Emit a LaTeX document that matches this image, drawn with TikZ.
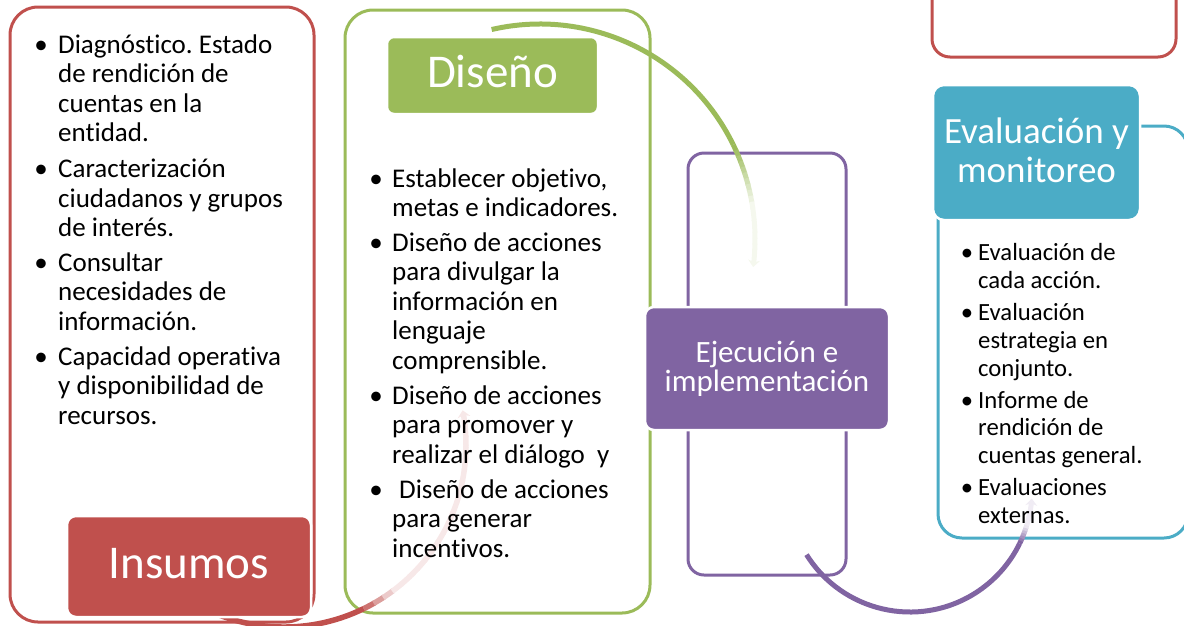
\documentclass[tikz,border=0pt]{standalone}
\usepackage{fontspec}
\setmainfont{Carlito}[Ligatures={NoCommon}]
\usetikzlibrary{arrows.meta,calc}
\definecolor{cred}{HTML}{C0504D}
\definecolor{cgreen}{HTML}{9BBB59}
\definecolor{cpurple}{HTML}{8064A2}
\definecolor{cblue}{HTML}{4BACC6}
\frenchspacing
\begin{document}
\begin{tikzpicture}[x=1pt,y=-1pt,
  outl/.style={draw=#1, line width=3pt, rounded corners=28pt, inner sep=0pt},
  fbox/.style={fill=#1, draw=white, line width=2.5pt, rounded corners=9pt, inner sep=0pt},
  txt/.style={inner sep=0pt, anchor=base west, text=black, font=\fontsize{27}{30}\selectfont},
  btxt/.style={inner sep=0pt, anchor=base west, text=black, font=\fontsize{24.7}{28}\selectfont},
  bul/.style={inner sep=0pt, anchor=base, text=black, font=\fontsize{27}{30}\selectfont},
  bbul/.style={inner sep=0pt, anchor=base, text=black, font=\fontsize{24.7}{28}\selectfont},
  lab/.style={inner sep=0pt, anchor=base, text=white, font=\fontsize{#1}{#1}\selectfont}]
\useasboundingbox (0,0) rectangle (1184,625);
\clip (0,0) rectangle (1184,625);

% outline boxes
\node[outl=cred, minimum width=304pt, minimum height=615pt] (redbox) at (162,314.5) {};
\node[outl=cgreen, minimum width=305pt, minimum height=603pt] (greenbox) at (497.5,311.5) {};
\node[outl=cpurple, rounded corners=16pt, minimum width=158pt, minimum height=422pt] (purplebox) at (767,364) {};
\node[outl=cblue, rounded corners=24pt, minimum width=250pt, minimum height=412pt] (bluebox) at (1063,332) {};
\node[outl=cred, rounded corners=18pt, minimum width=244pt, minimum height=97pt] (redtop) at (1054,8.5) {};

% curved arrows (fading)
\coordinate (RC) at (284,445);
\draw[cred, line width=5.5pt] ($(RC)+(145:182)$) arc[start angle=145, end angle=64, radius=182];
\foreach \i in {0,...,19}{
  \pgfmathsetmacro\aa{64-3.5*\i}
  \pgfmathsetmacro\ab{64-3.5*\i-3.9}
  \pgfmathsetmacro\pc{max(13,80-\i*25)}
  \draw[cred!\pc!white, line width=5.5pt] ($(RC)+(\aa:182)$) arc[start angle=\aa, end angle=\ab, radius=182];
}
\draw[cred!13!white, line width=5.5pt, -{Stealth[length=7pt,width=13pt]}] ($(RC)+(-6:182)$) arc[start angle=-6, end angle=-11, radius=182];

\coordinate (GC) at (540,239);
\draw[cgreen, line width=5pt] ($(GC)+(-103:215)$) arc[start angle=-103, end angle=-26, radius=215];
\foreach \i in {0,...,17}{
  \pgfmathsetmacro\aa{-26+1.6*\i}
  \pgfmathsetmacro\ab{-26+1.6*\i+1.9}
  \pgfmathsetmacro\pc{max(10,100-\i*9)}
  \draw[cgreen!\pc!white, line width=5pt] ($(GC)+(\aa:215)$) arc[start angle=\aa, end angle=\ab, radius=215];
}
\draw[cgreen!10!white, line width=5pt, -{Stealth[length=7pt,width=12pt]}] ($(GC)+(2.5:215)$) arc[start angle=2.5, end angle=7.5, radius=215];

\coordinate (PC) at (910,490);
\draw[cpurple, line width=5pt] ($(PC)+(148:122)$) arc[start angle=148, end angle=26, radius=122];
\foreach \i in {0,...,11}{
  \pgfmathsetmacro\aa{26-1.3*\i}
  \pgfmathsetmacro\ab{26-1.3*\i-1.6}
  \pgfmathsetmacro\pc{max(12,100-\i*14)}
  \draw[cpurple!\pc!white, line width=5pt] ($(PC)+(\aa:122)$) arc[start angle=\aa, end angle=\ab, radius=122];
}
\draw[cpurple!12!white, line width=5pt, -{Stealth[length=7pt,width=12pt]}] ($(PC)+(10.5:122)$) arc[start angle=10.5, end angle=4, radius=122];

% filled label boxes
\node[fbox=cred, minimum width=244pt, minimum height=101pt] (ins) at (189,566.5) {};
\node[fbox=cgreen, rounded corners=7pt, minimum width=211pt, minimum height=77pt] (dis) at (492.5,75.5) {};
\node[fbox=cpurple, minimum width=244pt, minimum height=123pt] (eje) at (767,368.5) {};
\node[fbox=cblue, rounded corners=11pt, minimum width=207pt, minimum height=135pt] (eva) at (1036.5,152.5) {};

\node[lab=47] (insT) at (189,578) {Insumos};
\node[lab=47] (disT) at (492.5,87) {Diseño};
\node[lab=31] (ejeT1) at (767,362) {Ejecución e};
\node[lab=31] (ejeT2) at (767,391) {implementación};
\node[lab=37] (evaT1) at (1036.5,143) {Evaluación y};
\node[lab=37] (evaT2) at (1036.5,182) {monitoreo};

% left list
\foreach \y/\t [count=\n] in {53/{Diagnóstico. Estado}, 82.5/{de rendición de}, 112/{cuentas en la}, 141.5/{entidad.},
  177.5/{Caracterización}, 207/{ciudadanos y grupos}, 236.5/{de interés.},
  271/{Consultar}, 300.5/{necesidades de}, 330/{información.},
  365/{Capacidad operativa}, 394.5/{y disponibilidad de}, 424/{recursos.}}
  \node[txt, name=L\n] at (58,\y) {\t};
\foreach \y [count=\n] in {53,177.5,271,365}
  \node[bul, name=LB\n] at (41,\y) {\textbullet};

% green list
\foreach \x/\y/\t [count=\n] in {392/187/{Establecer objetivo,}, 392/216.5/{metas e indicadores.},
  392/251/{Diseño de acciones}, 392/280.5/{para divulgar la}, 392/310/{información en}, 392/339.5/{lenguaje}, 392/369/{comprensible.},
  392/404/{Diseño de acciones}, 392/433.5/{para promover y}, 392/463/{realizar el diálogo\ \ y},
  399/498/{Diseño de acciones}, 392/527.5/{para generar}, 392/557/{incentivos.}}
  \node[txt, name=G\n] at (\x,\y) {\t};
\foreach \y [count=\n] in {187,251,404,498}
  \node[bul, name=GB\n] at (376,\y) {\textbullet};

% blue list
\foreach \y/\t [count=\n] in {260/{Evaluación de}, 288/{cada acción.},
  320/{Evaluación}, 348/{estrategia en}, 376/{conjunto.},
  408/{Informe de}, 435.5/{rendición de}, 463/{cuentas general.},
  495/{Evaluaciones}, 523/{externas.}}
  \node[btxt, name=B\n] at (978,\y) {\t};
\foreach \y [count=\n] in {260,320,408,495}
  \node[bbul, name=BB\n] at (967,\y) {\textbullet};
\end{tikzpicture}
\end{document}
